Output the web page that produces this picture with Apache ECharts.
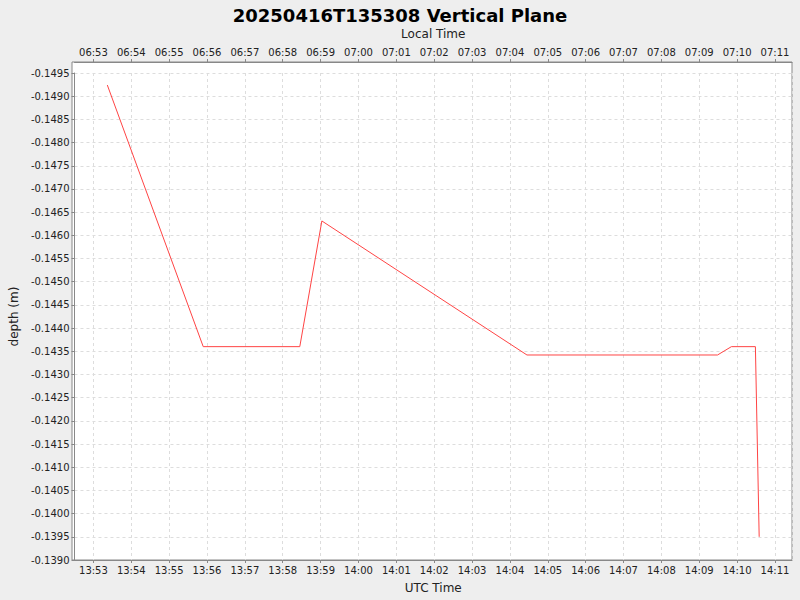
<!DOCTYPE html>
<html><head><meta charset="utf-8">
<script src="https://cdn.jsdelivr.net/npm/echarts@6/dist/echarts.min.js"></script>
<style>html,body{margin:0;background:#eeeeee}#c{width:800px;height:600px}</style>
</head><body><div id="c"></div>
<script>
var times = ['13:53:22','13:55:54','13:58:27','13:59:02','14:04:27','14:09:29','14:09:51','14:10:29','14:10:35'];
var depths = [-0.14924,-0.14360,-0.14360,-0.14631,-0.14342,-0.14342,-0.14360,-0.14360,-0.13950];
var day = '2025-04-16T';
function t(s) { return Date.parse(day + s + 'Z'); }
function pad(n) { return (n < 10 ? '0' : '') + n; }
function fmt(off) {
  return function(v) { var d = new Date(v + off * 3600000); return pad(d.getUTCHours()) + ':' + pad(d.getUTCMinutes()); };
}
var data = times.map(function(s, i) { return [t(s), depths[i]]; });
var xmin = t('13:52:30'), xmax = t('14:11:27');
var font = 'DejaVu Sans';
var chart = echarts.init(document.getElementById('c'), null, { renderer: 'svg' });
var gridLine = { show: true, lineStyle: { color: '#dddddd', type: [3, 3] } };
chart.setOption({
  animation: false,
  textStyle: { fontFamily: font },
  title: { text: '20250416T135308 Vertical Plane', left: 'center', top: 1,
    textStyle: { fontSize: 18, fontWeight: 'bold', color: '#000', fontFamily: font } },
  graphic: [{ type: 'rect', z: -1, shape: { x: 72, y: 62, width: 720, height: 498 },
    style: { fill: '#fff', stroke: '#888', lineWidth: 1 } }],
  grid: { left: 72, right: 8, top: 73, bottom: 40 },
  xAxis: [
    { type: 'time', min: xmin, max: xmax, minInterval: 60000, maxInterval: 60000,
      name: 'UTC Time', nameLocation: 'middle', nameGap: 22, nameTextStyle: { fontSize: 12, color: '#222' },
      axisLine: { lineStyle: { color: '#888' } }, axisTick: { show: true, length: 3, lineStyle: { color: '#888' } },
      axisLabel: { formatter: fmt(0), fontSize: 10, color: '#222', margin: 5, hideOverlap: false, showMinLabel: false, showMaxLabel: false },
      splitLine: gridLine },
    { type: 'time', position: 'top', offset: 11, min: xmin, max: xmax, minInterval: 60000, maxInterval: 60000,
      name: 'Local Time', nameLocation: 'middle', nameGap: 22, nameTextStyle: { fontSize: 12, color: '#222' },
      axisLine: { lineStyle: { color: '#888' } }, axisTick: { show: true, length: 3, lineStyle: { color: '#888' } },
      axisLabel: { formatter: fmt(-7), fontSize: 10, color: '#222', margin: 5, hideOverlap: false, showMinLabel: false, showMaxLabel: false },
      splitLine: { show: false } }
  ],
  yAxis: {
    type: 'value', inverse: true, min: -0.1495, max: -0.1390, interval: 0.0005,
    name: 'depth (m)', nameLocation: 'middle', nameGap: 54, nameTextStyle: { fontSize: 12, color: '#222' },
    axisLine: { show: true, lineStyle: { color: '#888' } }, axisTick: { show: true, length: 3, lineStyle: { color: '#888' } },
    axisLabel: { fontSize: 10, color: '#222', margin: 5, formatter: function(v) { return v.toFixed(4); } },
    splitLine: gridLine
  },
  series: [{ type: 'line', data: data, showSymbol: false, xAxisIndex: 0,
    lineStyle: { color: '#ff4444', width: 1 } }]
});
</script></body></html>
